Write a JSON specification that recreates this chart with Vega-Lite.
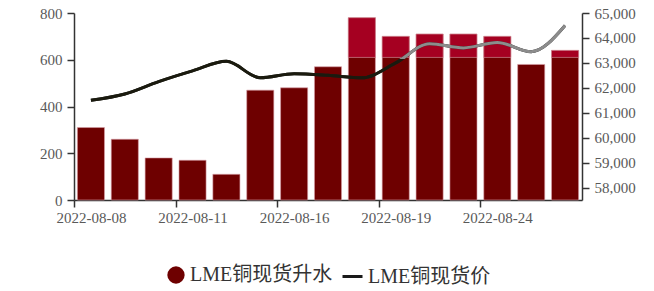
{
  "$schema": "https://vega.github.io/schema/vega-lite/v6.json",
  "width": 508,
  "height": 187,
  "autosize": "none",
  "padding": {"left": 74, "top": 13, "right": 72, "bottom": 91},
  "background": "white",
  "config": {
    "view": {"stroke": null},
    "axis": {"labelFont": "Liberation Serif", "labelFontSize": 15, "labelColor": "#595959", "domainColor": "#333333", "tickColor": "#333333", "grid": false, "title": null, "tickSize": 7, "tickWidth": 1.5, "domainWidth": 1.5},
    "legend": {"layout": {"bottom": {"anchor": "middle", "direction": "horizontal"}}}
  },
  "data": {
    "values": [
      {"date": "2022-08-08", "spread": 310, "price": 61500},
      {"date": "2022-08-09", "spread": 260, "price": 61750},
      {"date": "2022-08-10", "spread": 180, "price": 62250},
      {"date": "2022-08-11", "spread": 170, "price": 62680},
      {"date": "2022-08-12", "spread": 110, "price": 63060},
      {"date": "2022-08-15", "spread": 470, "price": 62400},
      {"date": "2022-08-16", "spread": 480, "price": 62560},
      {"date": "2022-08-17", "spread": 570, "price": 62500},
      {"date": "2022-08-18", "spread": 780, "price": 62400},
      {"date": "2022-08-19", "spread": 700, "price": 63000},
      {"date": "2022-08-22", "spread": 710, "price": 63770},
      {"date": "2022-08-23", "spread": 710, "price": 63600},
      {"date": "2022-08-24", "spread": 700, "price": 63820},
      {"date": "2022-08-25", "spread": 580, "price": 63450},
      {"date": "2022-08-26", "spread": 640, "price": 64500}
    ]
  },
  "encoding": {
    "x": {
      "field": "date", "type": "ordinal",
      "scale": {"paddingInner": 0.2, "paddingOuter": 0.1},
      "axis": {"labelAngle": 0, "values": ["2022-08-08", "2022-08-11", "2022-08-16", "2022-08-19", "2022-08-24"], "ticks": true, "tickOffset": -17, "labelOffset": 17, "tickSize": 7, "labelPadding": 3, "labelFont": "Liberation Serif", "labelFontSize": 15, "labelColor": "#595959"}
    }
  },
  "layer": [
    {
      "encoding": {
        "y": {"field": "spread", "type": "quantitative", "scale": {"domain": [0, 800], "nice": false}, "axis": {"orient": "left", "values": [0, 200, 400, 600, 800], "labelPadding": 5, "labelFont": "Liberation Serif", "labelFontSize": 15, "labelColor": "#595959"}}
      },
      "layer": [
        {
          "mark": {"type": "bar", "stroke": "#d8a0a8", "strokeWidth": 0.6},
          "encoding": {
            "fill": {"datum": "LME铜现货升水", "type": "nominal", "scale": {"domain": ["LME铜现货升水"], "range": ["#6e0000"]},
              "legend": {"orient": "bottom", "direction": "horizontal", "title": null, "offset": 40, "labelFont": "Liberation Serif, Noto Sans CJK SC", "labelFontSize": 20, "labelColor": "#333333", "symbolType": "circle", "symbolSize": 300, "symbolStrokeWidth": 0}
            }
          }
        },
        {
          "transform": [{"filter": "datum.spread > 610"}],
          "mark": {"type": "bar", "color": "#a50021", "stroke": "#d8a0a8", "strokeWidth": 0.6},
          "encoding": {"y2": {"datum": 610}}
        }
      ]
    },
    {
      "encoding": {
        "y": {"field": "price", "type": "quantitative", "scale": {"domain": [57500, 65000], "nice": false, "zero": false}, "axis": {"orient": "right", "values": [58000, 59000, 60000, 61000, 62000, 63000, 64000, 65000], "format": ",.0f", "formatType": "number", "labelPadding": 5, "labelFont": "Liberation Serif", "labelFontSize": 15, "labelColor": "#595959"}}
      },
      "layer": [
        {
          "mark": {"type": "line", "interpolate": "monotone", "strokeWidth": 3},
          "encoding": {"stroke": {"datum": "LME铜现货价", "type": "nominal", "scale": {"domain": ["LME铜现货价"], "range": ["#1a1a1a"]},
            "legend": {"orient": "bottom", "direction": "horizontal", "title": null, "offset": 40, "labelFont": "Liberation Serif, Noto Sans CJK SC", "labelFontSize": 20, "labelColor": "#333333", "symbolType": "stroke", "symbolSize": 400, "symbolStrokeWidth": 3}}}
        },
        {
          "mark": {"type": "line", "interpolate": "monotone", "strokeWidth": 3,
            "stroke": {"gradient": "linear", "x1": 0, "y1": 0, "x2": 0, "y2": 1,
              "stops": [{"offset": 0, "color": "#8c8c8c"}, {"offset": 0.45, "color": "#8c8c8c"}, {"offset": 0.451, "color": "#1a1a0e"}, {"offset": 1, "color": "#1a1a0e"}]}}
        }
      ]
    }
  ],
  "resolve": {"scale": {"y": "independent", "fill": "independent", "stroke": "independent"}}
}
